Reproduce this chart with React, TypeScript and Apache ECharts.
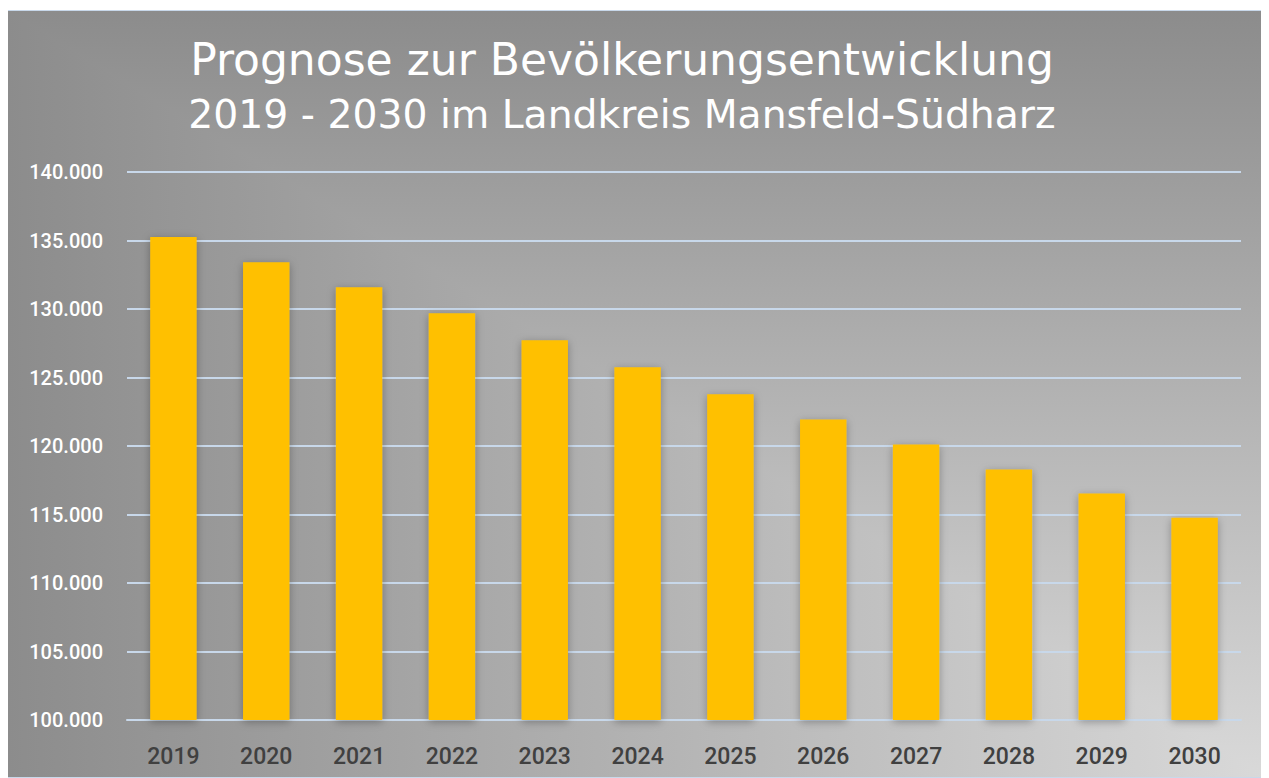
import React, { useEffect, useRef } from "react";
import * as echarts from "echarts";

const years = ["2019", "2020", "2021", "2022", "2023", "2024", "2025", "2026", "2027", "2028", "2029", "2030"];
const population = [135250, 133420, 131590, 129690, 127720, 125740, 123770, 121940, 120110, 118280, 116530, 114770];
const titleLine1 = "Prognose zur Bevölkerungsentwicklung";
const titleLine2 = "2019 - 2030 im Landkreis Mansfeld-Südharz";

const W = 1260;
const H = 766;
const DARK = "#8c8c8c";
const LIGHT = "#d9d9d9";

export default function App() {
  const ref = useRef<HTMLDivElement>(null);
  useEffect(() => {
    if (!ref.current) return;
    const chart = echarts.init(ref.current, null, { renderer: "svg" });
    chart.setOption({
      animation: false,
      backgroundColor: DARK,
      graphic: [
        {
          type: "rect",
          left: 0,
          top: 0,
          z: -100,
          silent: true,
          shape: { width: W, height: H },
          style: {
            fill: {
              type: "linear",
              x: 0,
              y: 0,
              x2: 1,
              y2: 0,
              colorStops: [
                { offset: 0, color: DARK },
                { offset: 1, color: LIGHT },
              ],
            },
          },
        },
        {
          type: "polygon",
          left: 0,
          top: 0,
          z: -99,
          silent: true,
          shape: { points: [[0, 0], [W, 0], [W, H]] },
          style: {
            fill: {
              type: "linear",
              x: 0,
              y: 0,
              x2: 0,
              y2: 1,
              colorStops: [
                { offset: 0, color: DARK },
                { offset: 1, color: LIGHT },
              ],
            },
          },
        },
      ],
      title: [
        {
          text: titleLine1,
          left: 614,
          top: 26,
          padding: 0,
          textAlign: "center",
          textStyle: { color: "#ffffff", fontFamily: "DejaVu Sans", fontWeight: "normal", fontSize: 44 },
        },
        {
          text: titleLine2,
          left: 614,
          top: 84,
          padding: 0,
          textAlign: "center",
          textStyle: { color: "#ffffff", fontFamily: "DejaVu Sans", fontWeight: "normal", fontSize: 39.3 },
        },
      ],
      grid: { left: 119, right: 27, top: 161, bottom: 57 },
      xAxis: {
        type: "category",
        data: years,
        axisLine: { lineStyle: { color: "#c8d8ea", width: 2 } },
        axisTick: { show: false },
        axisLabel: { color: "#404040", fontFamily: "Roboto", fontWeight: 500, fontSize: 23, margin: 25 },
      },
      yAxis: {
        type: "value",
        min: 100000,
        max: 140000,
        interval: 5000,
        axisLine: { show: false },
        axisTick: { show: false },
        axisLabel: {
          color: "#ffffff",
          fontFamily: "Roboto",
          fontWeight: 500,
          fontSize: 20,
          margin: 24,
          formatter: (v: number) => v.toLocaleString("de-DE"),
        },
        splitLine: { lineStyle: { color: "#c8d8ea", width: 2 } },
      },
      series: [
        {
          type: "bar",
          data: population,
          barWidth: "50%",
          itemStyle: {
            color: "#ffc000",
            shadowColor: "rgba(0,0,0,0.3)",
            shadowBlur: 8,
            shadowOffsetX: 0,
            shadowOffsetY: 2,
          },
        },
      ],
    });
    return () => chart.dispose();
  }, []);
  return (
    <div
      ref={ref}
      style={{
        width: 1262,
        height: 768,
        marginLeft: -1,
        marginTop: 2,
        border: "1px solid #c8d8ea",
        boxSizing: "border-box",
      }}
    />
  );
}
